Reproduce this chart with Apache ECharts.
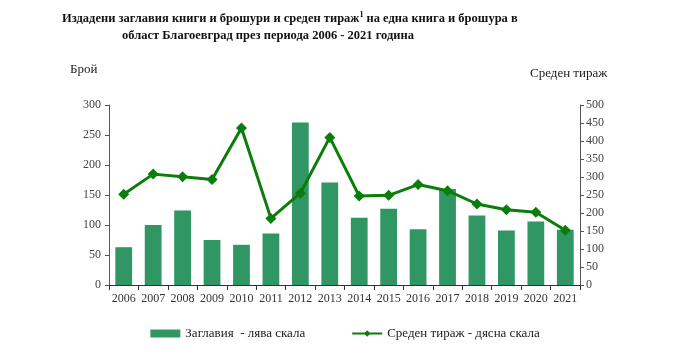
<!DOCTYPE html>
<html><head><meta charset="utf-8">
<script src="https://cdn.jsdelivr.net/npm/echarts@6/dist/echarts.min.js"></script>
<style>html,body{margin:0;padding:0;background:#fff}#c{width:690px;height:355px}</style>
</head><body><div id="c"></div>
<script>
const years = ['2006','2007','2008','2009','2010','2011','2012','2013','2014','2015','2016','2017','2018','2019','2020','2021'];
const titles = [63, 100, 124, 75, 67, 86, 271, 171, 112, 127, 93, 160, 116, 91, 106, 92];
const avgRun = [252, 308, 301, 293, 436, 185, 255, 410, 247, 249, 279, 262, 225, 209, 202, 152];
const leftTicks = [0, 50, 100, 150, 200, 250, 300];
const rightTicks = [0, 50, 100, 150, 200, 250, 300, 350, 400, 450, 500];

const serif = '"Liberation Serif","Times New Roman",serif';
const chart = echarts.init(document.getElementById('c'));
chart.setOption({
  animation: false,
  title: [
    {text: 'Издадени заглавия книги и брошури и среден тираж{s|1} на една книга и брошура в',
     left: 57, top: 6,
     textStyle: {fontFamily: serif, fontWeight: 'bold', fontSize: 12.5, color: '#111',
       rich: {s: {fontFamily: serif, fontWeight: 'bold', fontSize: 8, verticalAlign: 'top', padding: [0,0,7,0], color: '#111'}}}},
    {text: 'област Благоевград през периода 2006 - 2021 година', left: 117, top: 24,
     textStyle: {fontFamily: serif, fontWeight: 'bold', fontSize: 12.5, color: '#111'}}
  ],
  graphic: [
    {type: 'text', left: 70, top: 63, style: {text: 'Брой', font: '13px ' + serif, fill: '#222'}},
    {type: 'text', left: 530, top: 67, style: {text: 'Среден тираж', font: '13px ' + serif, fill: '#222'}}
  ],
  legend: {
    bottom: 10, left: 'center', itemGap: 46, itemWidth: 30, itemHeight: 8,
    textStyle: {fontFamily: serif, fontSize: 13, color: '#222'},
    data: [{name: 'Заглавия  - лява скала', icon: 'rect'}, {name: 'Среден тираж - дясна скала'}]
  },
  grid: {left: 109, right: 110, top: 105, bottom: 70},
  xAxis: {
    type: 'category', data: years,
    axisLine: {lineStyle: {color: '#333'}},
    axisTick: {show: true, alignWithLabel: false, length: 5, lineStyle: {color: '#333'}},
    axisLabel: {fontFamily: serif, fontSize: 12, color: '#333', margin: 8, interval: 0}
  },
  yAxis: [
    {type: 'value', min: leftTicks[0], max: leftTicks[leftTicks.length-1], interval: 50,
     splitLine: {show: false},
     axisLine: {show: true, lineStyle: {color: '#555'}},
     axisTick: {show: true, length: 4, lineStyle: {color: '#555'}},
     axisLabel: {fontFamily: serif, fontSize: 12, color: '#444', margin: 8}},
    {type: 'value', min: rightTicks[0], max: rightTicks[rightTicks.length-1], interval: 50,
     position: 'right', splitLine: {show: false},
     axisLine: {show: true, lineStyle: {color: '#555'}},
     axisTick: {show: true, length: 4, lineStyle: {color: '#555'}},
     axisLabel: {fontFamily: serif, fontSize: 12, color: '#444', margin: 6}}
  ],
  series: [
    {name: 'Заглавия  - лява скала', type: 'bar', data: titles, yAxisIndex: 0,
     barWidth: '57%', itemStyle: {color: '#2f9664'}},
    {name: 'Среден тираж - дясна скала', type: 'line', data: avgRun, yAxisIndex: 1,
     symbol: 'diamond', symbolSize: 11, lineStyle: {color: '#0b7d0b', width: 3},
     itemStyle: {color: '#0b7d0b'}}
  ]
});
</script></body></html>
